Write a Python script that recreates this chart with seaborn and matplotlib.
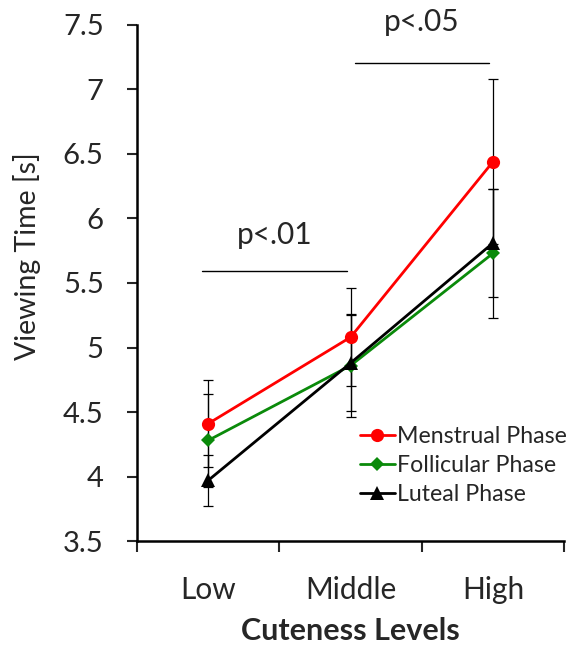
import matplotlib
matplotlib.use("Agg")
import matplotlib.pyplot as plt
import seaborn as sns
import pandas as pd

categories = ["Low", "Middle", "High"]
series = ["Menstrual Phase", "Follicular Phase", "Luteal Phase"]
menstrual = [4.41, 5.08, 6.44]
follicular = [4.28, 4.86, 5.73]
luteal = [3.97, 4.88, 5.81]
menstrual_err = [0.34, 0.38, 0.64]
follicular_err = [0.36, 0.40, 0.50]
luteal_err = [0.20, 0.37, 0.42]
yticks = [3.5, 4, 4.5, 5, 5.5, 6, 6.5, 7, 7.5]
ytick_labels = ["3.5", "4", "4.5", "5", "5.5", "6", "6.5", "7", "7.5"]

sns.set_style("white")
plt.rcParams["font.family"] = ["Lato", "DejaVu Sans"]

values = [menstrual, follicular, luteal]
errors = [menstrual_err, follicular_err, luteal_err]
colors = {"Menstrual Phase": "#ff0000", "Follicular Phase": "#0a8a0a", "Luteal Phase": "#000000"}
markers = {"Menstrual Phase": "o", "Follicular Phase": "D", "Luteal Phase": "^"}
msizes = {"Menstrual Phase": 9.5, "Follicular Phase": 7.5, "Luteal Phase": 9.5}

rows = []
for s, vals, errs in zip(series, values, errors):
    for i, (c, v, e) in enumerate(zip(categories, vals, errs)):
        rows.append({"series": s, "level": c, "pos": i, "value": v, "err": e})
df = pd.DataFrame(rows)

fig = plt.figure(figsize=(5.71, 6.47), dpi=100)
ax = fig.add_axes([0.240, 0.1638, 0.748, 0.7976])

for s in series:
    d = df[df.series == s]
    ax.errorbar(d.pos, d.value, yerr=d.err, fmt="none", ecolor="black",
                elinewidth=0.9, capsize=3.8, capthick=0.9, zorder=1)

for s in series:
    d = df[df.series == s]
    sns.lineplot(data=d, x="pos", y="value", ax=ax, color=colors[s],
                 marker=markers[s], markersize=msizes[s], markeredgewidth=0,
                 linewidth=2.0, label=s, errorbar=None, zorder=3)

ax.set_xlim(-0.5, 2.5)
ax.set_ylim(3.5, 7.5)
ax.set_xticks([-0.5, 0.5, 1.5, 2.5])
ax.set_xticklabels([])
ax.set_xticks([0, 1, 2], minor=True)
ax.set_xticklabels(categories, minor=True)
ax.tick_params(axis="x", which="major", direction="out", length=8, width=1.5, bottom=True)
ax.tick_params(axis="x", which="minor", length=0, pad=25, labelsize=21.5)
ax.set_yticks(yticks)
ax.set_yticklabels(ytick_labels)
ax.tick_params(axis="y", direction="out", length=7, width=1.5, left=True, labelsize=21, pad=17)

for sp in ["top", "right"]:
    ax.spines[sp].set_visible(False)
for sp in ["left", "bottom"]:
    ax.spines[sp].set_color("black")
    ax.spines[sp].set_linewidth(1.8)

ax.set_xlabel("Cuteness Levels", fontsize=22, fontweight="bold")
ax.xaxis.set_label_coords(0.5, -0.147)
ax.set_ylabel("Viewing Time [s]", fontsize=20.5)
ax.yaxis.set_label_coords(-0.225, 0.552)

# significance annotations
ax.plot([-0.043, 0.976], [5.593, 5.593], color="black", lw=1.0, clip_on=False)
ax.text(0.47, 5.87, "p<.01", fontsize=21.5, ha="center", va="center")
ax.plot([1.03, 1.97], [7.205, 7.205], color="black", lw=1.0, clip_on=False)
ax.text(1.5, 7.52, "p<.05", fontsize=21.5, ha="center", va="center", clip_on=False)

leg = ax.legend(loc="upper left", bbox_to_anchor=(0.522, 0.222), frameon=False,
                fontsize=16.7, handlelength=1.5, handletextpad=0.1,
                labelspacing=0.33, borderaxespad=0, borderpad=0)

fig.savefig("out.png", dpi=100)
